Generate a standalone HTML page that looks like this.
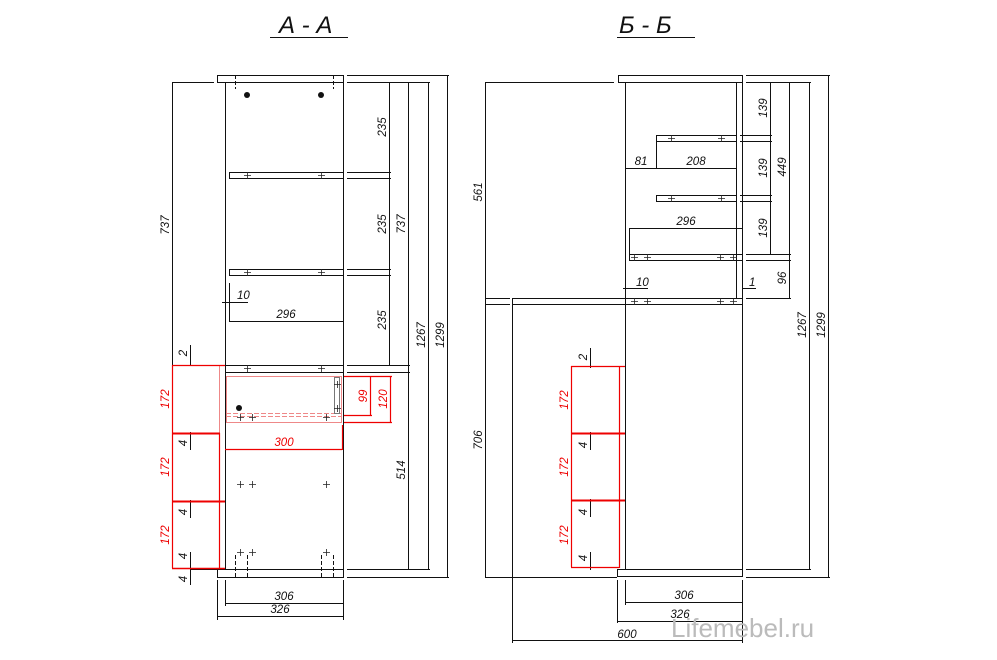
<!DOCTYPE html>
<html><head><meta charset="utf-8"><style>
html,body{margin:0;padding:0;background:#fff}
svg{display:block}
text{font-family:"Liberation Sans",sans-serif;font-style:italic;font-size:11.5px;fill:#111}
.r{fill:#e00}
</style></head><body>
<svg width="997" height="660" viewBox="0 0 997 660" xmlns="http://www.w3.org/2000/svg">
<g fill="none" stroke="#111" stroke-width="1">
<line x1="270" y1="37.5" x2="348" y2="37.5"/>
<line x1="617" y1="37.5" x2="695" y2="37.5"/>

<rect x="217.5" y="75.5" width="126" height="7"/>
<line x1="225.5" y1="82" x2="225.5" y2="569"/>
<line x1="343.5" y1="82" x2="343.5" y2="569"/>
<line x1="235.5" y1="75" x2="235.5" y2="89" stroke-dasharray="4,2"/>
<line x1="333.5" y1="75" x2="333.5" y2="89" stroke-dasharray="4,2"/>
<rect x="229.5" y="172.5" width="114" height="6"/>
<rect x="229.5" y="269.5" width="114" height="6"/>
<line x1="225" y1="365.5" x2="343" y2="365.5"/>
<line x1="225" y1="372.5" x2="343" y2="372.5"/>
<rect x="217.5" y="569.5" width="126" height="8"/>
<line x1="235.5" y1="555" x2="235.5" y2="577" stroke-dasharray="4,2"/>
<line x1="247.5" y1="555" x2="247.5" y2="577" stroke-dasharray="4,2"/>
<line x1="321.5" y1="555" x2="321.5" y2="577" stroke-dasharray="4,2"/>
<line x1="333.5" y1="555" x2="333.5" y2="577" stroke-dasharray="4,2"/>
<g stroke="#e88">
<rect x="226.5" y="376.5" width="115" height="46"/>
<line x1="226" y1="413.5" x2="342" y2="413.5" stroke-dasharray="5,2"/>
<line x1="226" y1="416.5" x2="342" y2="416.5" stroke-dasharray="5,2"/>
<line x1="219.5" y1="365" x2="219.5" y2="433"/>
</g>
<rect x="334.5" y="377.5" width="5" height="36" stroke="#777"/>
<line x1="347" y1="75.5" x2="449" y2="75.5"/>
<line x1="347" y1="82.5" x2="430" y2="82.5"/>
<line x1="347" y1="172.5" x2="391" y2="172.5"/>
<line x1="347" y1="178.5" x2="391" y2="178.5"/>
<line x1="347" y1="269.5" x2="391" y2="269.5"/>
<line x1="347" y1="275.5" x2="391" y2="275.5"/>
<line x1="347" y1="365.5" x2="410" y2="365.5"/>
<line x1="347" y1="372.5" x2="410" y2="372.5"/>
<line x1="347" y1="569.5" x2="430" y2="569.5"/>
<line x1="347" y1="577.5" x2="449" y2="577.5"/>
<line x1="389.5" y1="82" x2="389.5" y2="365"/>
<line x1="408.5" y1="82" x2="408.5" y2="569"/>
<line x1="428.5" y1="82" x2="428.5" y2="569"/>
<line x1="447.5" y1="75" x2="447.5" y2="577"/>
<line x1="172" y1="82.5" x2="214" y2="82.5"/>
<line x1="172.5" y1="82" x2="172.5" y2="365"/>
<line x1="190.5" y1="345" x2="190.5" y2="366"/>
<line x1="229.5" y1="283" x2="229.5" y2="322"/>
<line x1="222" y1="302.5" x2="248" y2="302.5"/>
<line x1="229" y1="321.5" x2="343" y2="321.5"/>
<line x1="190.5" y1="432" x2="190.5" y2="450"/>
<line x1="190.5" y1="500" x2="190.5" y2="518"/>
<line x1="190.5" y1="552" x2="190.5" y2="585"/>
<line x1="190" y1="569.5" x2="218" y2="569.5"/>
<line x1="225.5" y1="580" x2="225.5" y2="606"/>
<line x1="217.5" y1="580" x2="217.5" y2="620"/>
<line x1="343.5" y1="580" x2="343.5" y2="620"/>
<line x1="225" y1="603.5" x2="343" y2="603.5"/>
<line x1="217" y1="616.5" x2="343" y2="616.5"/>

<rect x="618.5" y="75.5" width="124" height="7"/>
<line x1="625.5" y1="82" x2="625.5" y2="569"/>
<line x1="736.5" y1="82" x2="736.5" y2="298"/>
<line x1="742.5" y1="82" x2="742.5" y2="577"/>
<rect x="656.5" y="135.5" width="80" height="6"/>
<rect x="656.5" y="195.5" width="80" height="6"/>
<rect x="629.5" y="254.5" width="113" height="6"/>
<rect x="512.5" y="298.5" width="230" height="6"/>
<line x1="485" y1="298.5" x2="510" y2="298.5"/>
<line x1="485" y1="304.5" x2="510" y2="304.5"/>
<line x1="512.5" y1="305" x2="512.5" y2="643"/>
<rect x="617.5" y="569.5" width="125" height="7"/>
<line x1="485" y1="577.5" x2="617" y2="577.5"/>
<line x1="485" y1="82.5" x2="614" y2="82.5"/>
<line x1="485.5" y1="82" x2="485.5" y2="577"/>
<line x1="746" y1="75.5" x2="830" y2="75.5"/>
<line x1="746" y1="82.5" x2="811" y2="82.5"/>
<line x1="740" y1="135.5" x2="772" y2="135.5"/>
<line x1="740" y1="141.5" x2="772" y2="141.5"/>
<line x1="740" y1="195.5" x2="772" y2="195.5"/>
<line x1="740" y1="201.5" x2="772" y2="201.5"/>
<line x1="746" y1="254.5" x2="791" y2="254.5"/>
<line x1="746" y1="260.5" x2="791" y2="260.5"/>
<line x1="746" y1="298.5" x2="791" y2="298.5"/>
<line x1="746" y1="569.5" x2="811" y2="569.5"/>
<line x1="746" y1="577.5" x2="830" y2="577.5"/>
<line x1="770.5" y1="82" x2="770.5" y2="254"/>
<line x1="789.5" y1="82" x2="789.5" y2="298"/>
<line x1="809.5" y1="82" x2="809.5" y2="569"/>
<line x1="828.5" y1="75" x2="828.5" y2="577"/>
<line x1="656.5" y1="142" x2="656.5" y2="169"/>
<line x1="625" y1="168.5" x2="736" y2="168.5"/>
<line x1="629.5" y1="228" x2="629.5" y2="254"/>
<line x1="629" y1="228.5" x2="743" y2="228.5"/>
<line x1="623" y1="288.5" x2="648" y2="288.5"/>
<line x1="742" y1="288.5" x2="756" y2="288.5"/>
<line x1="590.5" y1="348" x2="590.5" y2="368"/>
<line x1="590.5" y1="432" x2="590.5" y2="450"/>
<line x1="590.5" y1="499" x2="590.5" y2="517"/>
<line x1="590.5" y1="552" x2="590.5" y2="570"/>
<line x1="590" y1="567.5" x2="617" y2="567.5"/>
<line x1="625.5" y1="580" x2="625.5" y2="605"/>
<line x1="617.5" y1="580" x2="617.5" y2="623"/>
<line x1="742.5" y1="580" x2="742.5" y2="643"/>
<line x1="625" y1="602.5" x2="742" y2="602.5"/>
<line x1="617" y1="621.5" x2="742" y2="621.5"/>
<line x1="512" y1="640.5" x2="742" y2="640.5"/>
</g>

<g fill="none" stroke="#e00" stroke-width="1.2">
<line x1="172.5" y1="365" x2="172.5" y2="568"/>
<line x1="172" y1="365.5" x2="225" y2="365.5"/>
<line x1="172" y1="433.5" x2="220" y2="433.5" stroke-width="2"/>
<line x1="172" y1="501.5" x2="225" y2="501.5" stroke-width="2"/>
<line x1="172" y1="568.5" x2="225" y2="568.5" stroke-width="1.5"/>
<line x1="219.5" y1="433" x2="219.5" y2="568"/>
<line x1="225" y1="449.5" x2="342" y2="449.5"/>
<line x1="342.5" y1="425" x2="342.5" y2="450"/>
<line x1="344" y1="376.5" x2="392" y2="376.5"/>
<line x1="344" y1="415.5" x2="372" y2="415.5"/>
<line x1="344" y1="422.5" x2="392" y2="422.5"/>
<line x1="370.5" y1="376" x2="370.5" y2="416"/>
<line x1="390.5" y1="376" x2="390.5" y2="423"/>
<line x1="571.5" y1="366" x2="571.5" y2="567"/>
<line x1="571" y1="366.5" x2="625" y2="366.5"/>
<line x1="571" y1="433.5" x2="625" y2="433.5" stroke-width="2"/>
<line x1="571" y1="500.5" x2="625" y2="500.5" stroke-width="2"/>
<line x1="571" y1="567.5" x2="619" y2="567.5"/>
<line x1="619.5" y1="366" x2="619.5" y2="568"/>
</g>

<g stroke="#222" stroke-width="0.8">
<path d="M244 175.5h7M247.5 172v7M318 175.5h7M321.5 172v7M244 272.5h7M247.5 269v7M318 272.5h7M321.5 269v7M244 368.5h7M247.5 365v7M318 368.5h7M321.5 365v7"/>
<path d="M237 417.5h7M240.5 414v7M249 417.5h7M252.5 414v7M323 417.5h7M326.5 414v7M334 384.5h7M337.5 381v7M334 408.5h7M337.5 405v7"/>
<path d="M237 484.5h7M240.5 481v7M249 484.5h7M252.5 481v7M323 484.5h7M326.5 481v7M237 552.5h7M240.5 549v7M249 552.5h7M252.5 549v7M323 552.5h7M326.5 549v7"/>
<path d="M668 138.5h7M671.5 135v7M718 138.5h7M721.5 135v7M668 198.5h7M671.5 195v7M718 198.5h7M721.5 195v7"/>
<path d="M631 257.5h7M634.5 254v7M644 257.5h7M647.5 254v7M717 257.5h7M720.5 254v7M730 257.5h7M733.5 254v7"/>
<path d="M631 301.5h7M634.5 298v7M644 301.5h7M647.5 298v7M717 301.5h7M720.5 298v7M730 301.5h7M733.5 298v7"/>
</g>
<circle cx="247" cy="95" r="3" fill="#111"/><circle cx="321" cy="95" r="3" fill="#111"/>
<circle cx="239" cy="408" r="3" fill="#111"/>

<text x="279" y="33" style="font-size:24px">А - А</text>
<text x="619" y="33" style="font-size:24px">Б - Б</text>

<g>
<text transform="translate(386,127) rotate(-90)" text-anchor="middle">235</text>
<text transform="translate(386,224) rotate(-90)" text-anchor="middle">235</text>
<text transform="translate(386,320) rotate(-90)" text-anchor="middle">235</text>
<text transform="translate(405,224) rotate(-90)" text-anchor="middle">737</text>
<text transform="translate(425,335) rotate(-90)" text-anchor="middle">1267</text>
<text transform="translate(444,335) rotate(-90)" text-anchor="middle">1299</text>
<text transform="translate(405,470) rotate(-90)" text-anchor="middle">514</text>
<text transform="translate(169,225) rotate(-90)" text-anchor="middle">737</text>
<text transform="translate(187,353) rotate(-90)" text-anchor="middle">2</text>
<text transform="translate(187,443) rotate(-90)" text-anchor="middle">4</text>
<text transform="translate(187,512) rotate(-90)" text-anchor="middle">4</text>
<text transform="translate(187,556) rotate(-90)" text-anchor="middle">4</text>
<text transform="translate(187,579) rotate(-90)" text-anchor="middle">4</text>
<text x="237" y="299">10</text>
<text x="286" y="318" text-anchor="middle">296</text>
<text x="284" y="600" text-anchor="middle">306</text>
<text x="280" y="613" text-anchor="middle">326</text>
<text class="r" transform="translate(169,399) rotate(-90)" text-anchor="middle">172</text>
<text class="r" transform="translate(169,467) rotate(-90)" text-anchor="middle">172</text>
<text class="r" transform="translate(169,535) rotate(-90)" text-anchor="middle">172</text>
<text class="r" x="284" y="446" text-anchor="middle">300</text>
<text class="r" transform="translate(367,396) rotate(-90)" text-anchor="middle">99</text>
<text class="r" transform="translate(387,399) rotate(-90)" text-anchor="middle">120</text>

<text transform="translate(767,108) rotate(-90)" text-anchor="middle">139</text>
<text transform="translate(767,168) rotate(-90)" text-anchor="middle">139</text>
<text transform="translate(767,228) rotate(-90)" text-anchor="middle">139</text>
<text transform="translate(786,167) rotate(-90)" text-anchor="middle">449</text>
<text transform="translate(786,278) rotate(-90)" text-anchor="middle">96</text>
<text transform="translate(806,325) rotate(-90)" text-anchor="middle">1267</text>
<text transform="translate(825,325) rotate(-90)" text-anchor="middle">1299</text>
<text transform="translate(482,192) rotate(-90)" text-anchor="middle">561</text>
<text transform="translate(482,440) rotate(-90)" text-anchor="middle">706</text>
<text x="641" y="165" text-anchor="middle">81</text>
<text x="696" y="165" text-anchor="middle">208</text>
<text x="686" y="225" text-anchor="middle">296</text>
<text x="636" y="286">10</text>
<text x="749" y="286">1</text>
<text transform="translate(587,357) rotate(-90)" text-anchor="middle">2</text>
<text transform="translate(587,445) rotate(-90)" text-anchor="middle">4</text>
<text transform="translate(587,512) rotate(-90)" text-anchor="middle">4</text>
<text transform="translate(587,558) rotate(-90)" text-anchor="middle">4</text>
<text class="r" transform="translate(568,400) rotate(-90)" text-anchor="middle">172</text>
<text class="r" transform="translate(568,467) rotate(-90)" text-anchor="middle">172</text>
<text class="r" transform="translate(568,535) rotate(-90)" text-anchor="middle">172</text>
<text x="684" y="599" text-anchor="middle">306</text>
<text x="680" y="618" text-anchor="middle">326</text>
<text x="627" y="638" text-anchor="middle">600</text>
</g>
<text x="671" y="637" style="font-style:normal;font-size:26px;fill:#bbb">Lifemebel.ru</text>
</svg>
</body></html>
